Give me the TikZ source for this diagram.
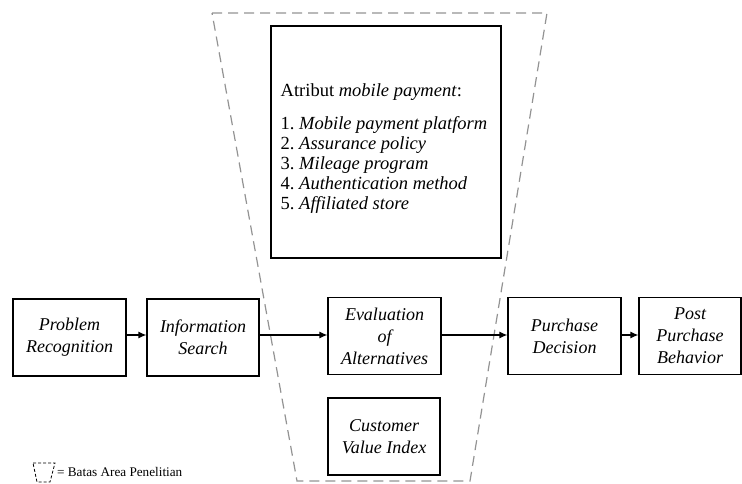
\documentclass[tikz,border=0pt]{standalone}
\usepackage{fontspec}
\setmainfont{Liberation Serif}
\usetikzlibrary{arrows.meta}
\tikzset{
  stagebox/.style={draw=black, line width=1.2pt, minimum width=#1, minimum height=77pt, align=center, inner sep=2pt,
    font=\fontsize{18}{22}\selectfont\itshape},
  stagebox/.default=113pt,
  flow/.style={line width=1.2pt, -{Latex[length=8pt,width=7pt]}},
  area/.style={draw=gray!85, line width=1.2pt, dash pattern=on 10pt off 6pt}
}
\begin{document}
\begin{tikzpicture}[x=1pt,y=-1pt]
\useasboundingbox (0,0) rectangle (742,484);
% research area
\draw[area] (212,13) -- (547,13) -- (470,481) -- (297,481) -- cycle;
% attribute box
\node[draw=black, line width=1.2pt, minimum width=230pt, minimum height=232pt, align=left,
  font=\fontsize{18.5}{20}\selectfont] (attr) at (386,142) {};
\node[align=left, inner sep=0pt, font=\fontsize{18.5}{20}\selectfont] (attrtext) at (384,149)
  {Atribut \textit{mobile payment}:\\[13pt]
   1.\ \textit{Mobile payment platform}\\
   2.\ \textit{Assurance policy}\\
   3.\ \textit{Mileage program}\\
   4.\ \textit{Authentication method}\\
   5.\ \textit{Affiliated store}};
% stages
\node[stagebox] (pr) at (69.5,337.5) {Problem\\Recognition};
\node[stagebox=112pt] (is) at (203,337.5) {Information\\Search};
\node[stagebox=113pt] (ev) at (384.5,336) {Evaluation\\of\\Alternatives};
\node[stagebox=112pt] (cv) at (384,436.5) {Customer\\Value Index};
\node[stagebox=113pt] (pd) at (564.5,336) {Purchase\\Decision};
\node[stagebox=102pt] (pp) at (690,336) {Post\\Purchase\\Behavior};
% arrows
\draw[flow] (pr.east |- 0,335) -- (is.west |- 0,335);
\draw[flow] (is.east |- 0,335) -- (ev.west |- 0,335);
\draw[flow] (ev.east |- 0,335) -- (pd.west |- 0,335);
\draw[flow] (pd.east |- 0,335) -- (pp.west |- 0,335);
% legend
\draw[line width=0.8pt, dash pattern=on 3pt off 2pt] (33,463) -- (55,463) -- (50,482) -- (37,482) -- cycle;
\node[anchor=west, inner sep=0pt, font=\fontsize{13.2}{15}\selectfont] (leg) at (57,472) {= Batas Area Penelitian};
\end{tikzpicture}
\end{document}
